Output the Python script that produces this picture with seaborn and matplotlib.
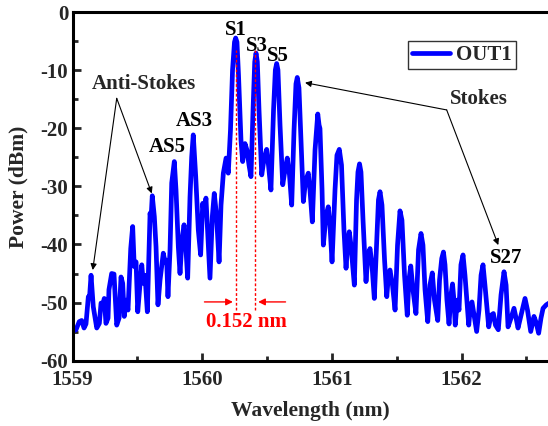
import matplotlib
matplotlib.use("Agg")
import matplotlib.pyplot as plt
import seaborn as sns
import pandas as pd

wavelength = [
    1559.008, 1559.027, 1559.052, 1559.071, 1559.089, 1559.104, 1559.122, 1559.131, 1559.143, 1559.160,
    1559.187, 1559.207, 1559.220, 1559.231, 1559.245, 1559.258, 1559.274, 1559.281, 1559.302, 1559.320,
    1559.341, 1559.359, 1559.374, 1559.387, 1559.399, 1559.412, 1559.428, 1559.449, 1559.464, 1559.476,
    1559.490, 1559.503, 1559.520, 1559.534, 1559.546, 1559.559, 1559.577, 1559.598, 1559.605, 1559.615,
    1559.631, 1559.644, 1559.659, 1559.675, 1559.700, 1559.713, 1559.726, 1559.736, 1559.752, 1559.765,
    1559.785, 1559.798, 1559.816, 1559.829, 1559.844, 1559.860, 1559.875, 1559.888, 1559.906, 1559.919,
    1559.931, 1559.950, 1559.970, 1559.988, 1560.004, 1560.014, 1560.029, 1560.045, 1560.060, 1560.078,
    1560.093, 1560.110, 1560.130, 1560.145, 1560.163, 1560.184, 1560.201, 1560.218, 1560.234, 1560.249,
    1560.258, 1560.268, 1560.280, 1560.299, 1560.312, 1560.330, 1560.345, 1560.361, 1560.376, 1560.392,
    1560.405, 1560.415, 1560.425, 1560.438, 1560.459, 1560.476, 1560.497, 1560.511, 1560.530, 1560.550,
    1560.564, 1560.574, 1560.584, 1560.600, 1560.621, 1560.638, 1560.656, 1560.673, 1560.690, 1560.708,
    1560.723, 1560.733, 1560.746, 1560.762, 1560.780, 1560.797, 1560.818, 1560.831, 1560.849, 1560.870,
    1560.891, 1560.901, 1560.908, 1560.924, 1560.934, 1560.955, 1560.972, 1560.985, 1561.001, 1561.024,
    1561.039, 1561.057, 1561.074, 1561.093, 1561.109, 1561.124, 1561.134, 1561.147, 1561.173, 1561.190,
    1561.201, 1561.213, 1561.224, 1561.240, 1561.263, 1561.278, 1561.294, 1561.309, 1561.327, 1561.348,
    1561.359, 1561.371, 1561.386, 1561.406, 1561.423, 1561.436, 1561.448, 1561.467, 1561.487, 1561.506,
    1561.525, 1561.540, 1561.560, 1561.581, 1561.594, 1561.608, 1561.625, 1561.648, 1561.668, 1561.687,
    1561.702, 1561.718, 1561.739, 1561.756, 1561.774, 1561.791, 1561.816, 1561.830, 1561.847, 1561.860,
    1561.872, 1561.887, 1561.903, 1561.918, 1561.930, 1561.941, 1561.951, 1561.967, 1561.980, 1561.995,
    1562.011, 1562.026, 1562.055, 1562.069, 1562.080, 1562.096, 1562.116, 1562.134, 1562.150, 1562.165,
    1562.180, 1562.209, 1562.227, 1562.245, 1562.261, 1562.283, 1562.304, 1562.327, 1562.343, 1562.358,
    1562.381, 1562.404, 1562.420, 1562.435, 1562.458, 1562.489, 1562.508, 1562.533, 1562.558, 1562.574,
    1562.594, 1562.612, 1562.628, 1562.653, 1562.674,
]
power = [
    -54.9, -54.7, -53.3, -53.1, -54.4, -53.7, -49.0, -49.2, -45.3, -50.7,
    -54.4, -53.6, -50.1, -50.6, -49.3, -53.6, -52.7, -47.8, -45.0, -45.1,
    -53.9, -52.7, -45.6, -46.7, -52.4, -49.6, -51.3, -40.7, -36.9, -43.8,
    -43.0, -51.6, -47.0, -43.5, -46.7, -45.3, -51.6, -34.6, -35.8, -31.6,
    -35.2, -40.4, -50.4, -46.1, -41.5, -43.0, -42.7, -49.0, -40.9, -29.4,
    -25.7, -30.6, -40.4, -45.0, -39.2, -36.6, -40.9, -45.8, -31.8, -24.9,
    -21.1, -28.3, -37.5, -41.8, -32.9, -34.7, -32.0, -39.2, -45.8, -35.2,
    -31.2, -34.9, -43.0, -33.2, -27.7, -25.1, -27.7, -20.3, -9.9, -5.1,
    -4.4, -5.1, -10.8, -22.0, -25.7, -22.6, -23.7, -26.3, -28.3, -16.8,
    -8.5, -7.0, -8.5, -16.8, -28.0, -25.4, -23.6, -26.3, -30.6, -16.8,
    -9.9, -8.8, -9.9, -19.4, -29.7, -27.2, -25.1, -28.0, -33.2, -20.3,
    -12.3, -11.2, -13.0, -22.0, -32.6, -29.0, -27.7, -30.6, -36.1, -23.7,
    -17.5, -19.4, -20.0, -30.6, -40.1, -34.9, -33.5, -36.6, -43.0, -30.6,
    -24.6, -23.6, -26.3, -37.5, -44.1, -39.2, -37.8, -40.1, -47.0, -32.3,
    -27.5, -26.1, -27.5, -35.8, -46.4, -41.8, -40.7, -43.5, -49.3, -38.4,
    -32.3, -30.9, -33.2, -42.7, -49.0, -45.3, -44.4, -47.0, -51.3, -40.1,
    -34.2, -35.8, -45.3, -52.2, -46.1, -43.7, -47.8, -51.9, -40.9, -38.1,
    -40.1, -47.8, -53.3, -47.0, -44.9, -49.6, -53.1, -46.1, -42.4, -41.3,
    -43.5, -49.6, -53.7, -48.7, -46.8, -49.6, -53.9, -49.6, -51.3, -43.5,
    -41.8, -45.3, -53.9, -50.4, -49.9, -52.2, -55.0, -51.3, -45.3, -43.5,
    -47.0, -54.2, -52.2, -51.9, -53.9, -54.7, -48.7, -44.7, -47.0, -54.2,
    -52.7, -51.0, -52.7, -54.4, -52.2, -49.3, -51.3, -55.0, -52.4, -53.4,
    -55.3, -52.7, -51.0, -50.4, -50.1,
]

x_ticks = [1559, 1560, 1561, 1562]
y_ticks = [0, -10, -20, -30, -40, -50, -60]
y_tick_labels = ["0", "-10", "-20", "-30", "-40", "-50", "-60"]

peak_labels = ["S1", "S3", "S5", "AS3", "AS5", "S27"]
peak_label_x = [1560.261, 1560.420, 1560.584, 1559.937, 1559.729, 1562.342]
peak_label_y = [-3.0, -5.7, -7.5, -18.7, -23.2, -42.3]

spacing_lines = [1560.258, 1560.410]
spacing_text = "0.152 nm"

sns.set_theme(style="white")
plt.rcParams["font.family"] = ["Liberation Serif", "DejaVu Serif"]
plt.rcParams["font.weight"] = "bold"
plt.rcParams["axes.unicode_minus"] = False

fig = plt.figure(figsize=(5.48, 4.26), dpi=100)
ax = fig.add_axes([72.5 / 548, (426 - 360.5) / 426, 1 - 72.5 / 548, (360.5 - 12.5) / 426])

df = pd.DataFrame({"Wavelength": wavelength, "Power": power})
sns.lineplot(data=df, x="Wavelength", y="Power", sort=False, color="#0000ff",
             lw=3.4, ax=ax, label="OUT1")

ax.set_xlim(1559, 1559 + (548 - 72.5) / 129.7)
ax.set_ylim(-60, 0)
ax.set_xticks(x_ticks)
ax.set_xticklabels([str(t) for t in x_ticks])
ax.set_yticks(y_ticks)
ax.set_yticklabels(y_tick_labels)
ax.set_xticks([1559.5, 1560.5, 1561.5, 1562.5], minor=True)
ax.set_yticks([-5, -15, -25, -35, -45, -55], minor=True)
ax.tick_params(which="major", direction="in", length=6, width=2, labelsize=15)
ax.tick_params(axis="x", which="major", pad=7)
ax.tick_params(axis="y", which="major", pad=3)
ax.tick_params(which="minor", direction="in", length=3.5, width=2)
ax.tick_params(axis="both", which="both", left=True, bottom=True, right=False, top=False)
for lab in ax.get_xticklabels() + ax.get_yticklabels():
    lab.set_fontweight("bold")

ax.set_xlabel("Wavelength (nm)", fontsize=15.5, fontweight="bold", labelpad=8)
ax.set_ylabel("Power (dBm)", fontsize=15.5, fontweight="bold", labelpad=9)

for side in ["left", "bottom", "top"]:
    ax.spines[side].set_linewidth(2.2)
    ax.spines[side].set_color("black")
ax.spines["right"].set_visible(False)

# spacing markers
ax.vlines(spacing_lines, ymin=-51.3, ymax=-6.5, colors="red", linestyles=(0, (2, 1.5)), lw=1.0)
ax.annotate("", xy=(spacing_lines[0], -49.9), xytext=(1559.996, -49.9),
            arrowprops=dict(arrowstyle="-|>", color="red", lw=1.0, mutation_scale=10))
ax.annotate("", xy=(spacing_lines[1], -49.9), xytext=(1560.664, -49.9),
            arrowprops=dict(arrowstyle="-|>", color="red", lw=1.0, mutation_scale=10))
ax.text(1560.342, -53.4, spacing_text, color="red", fontsize=15, fontweight="bold",
        ha="center", va="center")

for t, xx, yy in zip(peak_labels, peak_label_x, peak_label_y):
    ax.text(xx, yy, t, fontsize=15, fontweight="bold", ha="center", va="center", color="black")

ax.text(1559.547, -12.3, "Anti-Stokes", fontsize=15, fontweight="bold", ha="center", va="center")
for tx, ty in [(1559.156, -44.4), (1559.611, -31.2)]:
    ax.annotate("", xy=(tx, ty), xytext=(1559.341, -14.8),
                arrowprops=dict(arrowstyle="-|>", color="black", lw=0.8, mutation_scale=9,
                                shrinkA=0, shrinkB=0))
ax.text(1562.130, -15.0, "Stokes", fontsize=15, fontweight="bold", ha="center", va="center")
for tx, ty in [(1560.793, -12.1), (1562.283, -40.1)]:
    ax.annotate("", xy=(tx, ty), xytext=(1561.885, -16.8),
                arrowprops=dict(arrowstyle="-|>", color="black", lw=0.8, mutation_scale=9,
                                shrinkA=0, shrinkB=0))

leg = ax.legend(loc="upper right", bbox_to_anchor=(0.933, 0.919), fontsize=15,
                frameon=True, fancybox=False, handlelength=1.8, handletextpad=0.3,
                borderpad=0.2, borderaxespad=0.0)
leg.get_frame().set_edgecolor("black")
leg.get_frame().set_linewidth(1.0)
for txt in leg.get_texts():
    txt.set_fontweight("bold")

fig.savefig("out.png", dpi=100)
